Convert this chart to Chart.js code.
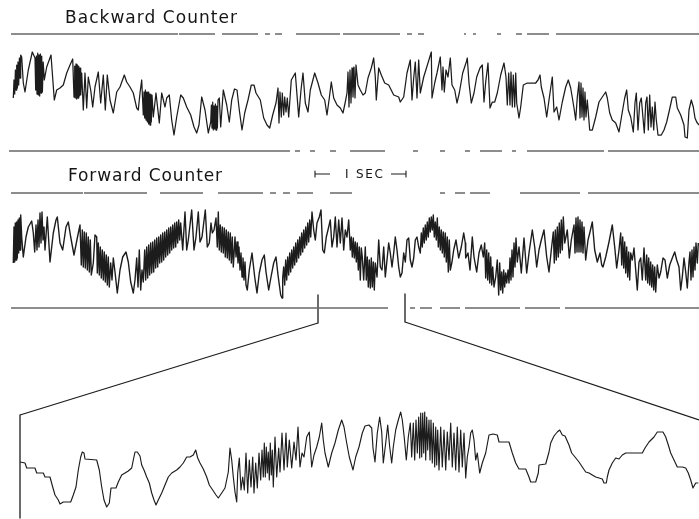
<!DOCTYPE html>
<html>
<head>
<meta charset="utf-8">
<title>Backward / Forward Counter</title>
<script src="https://cdn.jsdelivr.net/npm/chart.js@4.4.1/dist/chart.umd.min.js"></script>
<style>
  html, body { margin: 0; padding: 0; background: #fff; }
  #wrap { position: relative; width: 699px; height: 519px; overflow: hidden; }
  #plot { position: absolute; left: 0; top: 0; }
  .lbl { position: absolute; font-family: "DejaVu Sans", sans-serif; color: #151515; white-space: nowrap; line-height: 1; }
</style>
</head>
<body>
<div id="wrap">
  <canvas id="plot" width="699" height="519"></canvas>
  <div class="lbl" data-w="172" style="left:65px;top:8.5px;font-size:17px">Backward Counter</div>
  <div class="lbl" data-w="154" style="left:68px;top:166.5px;font-size:17px">Forward Counter</div>
  <div class="lbl" data-w="38" style="left:345px;top:168px;font-size:12px">I SEC</div>
</div>
<script>
// traces: [time (px along record), counter level above panel baseline]
const backwardTrace = [
  [13.3,52],[14,70],[14.7,56],[15.4,80],[16,60],[16.7,85],[17.4,62],[18,88],[18.7,65],[19.4,92],[20,72],[20.7,95],[21.7,93],[23.3,67],[25,58],[28.3,80],[32.3,98],
  [35,92],[35.7,60],[36.4,94],[37,56],[37.7,97],[38.4,55],[39,95],[39.7,54],[40.4,96],[41,57],[41.7,94],[42.4,58],[43.2,88],[44.3,70],[46.7,83],[51,95],[54.3,50],
  [56.7,60],[60,62],[63.3,65],[66.7,77],[70,85],[72.7,91],[74,53],[74.7,84],[75.3,52],[76,86],[76.7,51],[77.4,85],[78,52],[78.7,84],[79.4,54],[80,82],[80.7,55],
  [81.7,77],[83.3,40],[85,77],[86.7,42],[88.3,73],[90.7,60],[92.7,43],[95,63],[98.3,78],[100.7,47],[103.3,75],[105.3,40],[107.3,75],[110,50],[113.3,37],[116.7,58],
  [120,63],[124.3,75],[126.7,68],[130,63],[133.3,57],[136.7,42],[138.3,40],[140,57],[141.7,70],[143.3,35],[144,58],[144.7,32],[145.4,60],[146,30],[146.7,58],
  [147.4,28],[148,58],[148.7,26],[149.4,56],[150,25],[150.7,56],[151.3,28],[152,55],[153.3,33],[156,57],[159.3,27],[161.7,57],[165,43],[166.7,52],[169.3,55],
  [171.7,30],[174,15],[176.7,33],[180.7,55],[183.3,52],[186.7,43],[190.7,35],[194,23],[196.7,17],[199,25],[201.7,53],[205,40],[208.3,17],[210.7,28],[211.4,45],
  [212,22],[212.7,48],[213.3,20],[214,44],[214.7,21],[215.4,46],[216,20],[216.7,44],[217.4,22],[218,50],[219.3,52],[220.7,23],[223.3,60],[226.7,45],[229.3,28],
  [231.7,50],[234.5,61],[237,60],[239.3,40],[242,20],[244.7,37],[248,50],[251.3,65],[254,65],[256,57],[260.3,50],[263.7,32],[267,25],[269.7,22],[272.7,35],
  [276,47],[278,62],[279,27],[280,58],[281.3,33],[282.3,57],[283.7,35],[284.7,53],[286,38],[287.3,52],[288.7,33],[291.3,70],[295.3,77],[298.7,33],[301,60],
  [303,77],[305.3,47],[308,38],[310.3,60],[314.7,77],[318,67],[321.3,55],[324.7,50],[327,35],[329.3,52],[331.3,68],[333.7,52],[337,45],[340.3,42],[343,37],
  [345.3,48],[347,57],[348,78],[349,43],[350,80],[351,47],[352,82],[353,53],[354,83],[355,52],[356,85],[358,65],[360.3,60],[363,55],[365.3,57],[368,72],
  [371.3,82],[373.7,92],[375.3,73],[376.3,50],[378.7,82],[381.3,75],[384.7,67],[388.7,65],[393.7,55],[398.7,53],[400.3,48],[403.7,53],[407,77],[410.3,90],
  [412,50],[413.7,72],[415.3,88],[417,52],[418.7,90],[420.3,57],[423.7,73],[428,87],[431.3,98],[432,52],[434.7,67],[437,77],[440.3,93],[442,60],[443,83],
  [444.3,58],[446,80],[448,73],[450.3,92],[452,65],[454.7,60],[457,47],[459.3,57],[462.7,77],[466.3,88],[467.3,92],[469,67],[471.3,47],[474,57],[476.7,73],
  [480,82],[482.3,85],[484,48],[485.7,68],[488,87],[490,42],[492.3,48],[494.7,48],[497.3,57],[500.7,75],[504,87],[506,73],[507.3,45],[508.7,77],[510,45],
  [511,78],[512.3,43],[513.3,75],[514.7,43],[515.7,77],[516.7,47],[519,32],[520.7,43],[523.3,65],[527.3,67],[532.3,67],[535.7,67],[538,70],[540,75],[541.3,63],
  [544,52],[546.7,33],[549,50],[550.7,62],[552.3,73],[554,38],[556.7,43],[559,30],[562.3,48],[565.7,63],[568.3,70],[570.7,62],[574,42],[575.7,30],[577.3,53],
  [579,68],[580,32],[581,67],[582,33],[583,62],[584,30],[585,58],[586,33],[587.3,50],[589.7,20],[592.3,20],[595.7,33],[599,48],[602.3,53],[605.7,58],[607.3,52],
  [609.7,37],[612.3,30],[615.7,27],[619,18],[622.3,38],[624.7,52],[626.7,60],[628.3,40],[630.7,33],[633.3,18],[635,47],[636.3,57],[638,20],[639.7,47],[641.3,52],
  [643,32],[644.3,17],[645.7,47],[647,53],[648.3,20],[649.7,55],[651,23],[652.3,43],[653.7,20],[655,48],[656.3,30],[658,15],[661.3,15],[664,20],[666.7,28],
  [669,38],[672.3,53],[675.7,53],[677.3,42],[680.7,35],[684,25],[685,13],[687.3,12],[689,40],[691.3,50],[693.3,43],[695,32],[696.7,28],[699,25]
];

const forwardTrace = [
  [13.3,45],[14,81],[14.7,46],[15.3,85],[16,48],[16.7,86],[17.3,50],[18,88],[18.7,55],[19.3,90],[20,58],[20.7,93],[21.7,71],[23.3,51],[26,71],[28.3,81],[31.7,87],
  [33.3,75],[34.7,56],[36,83],[37,58],[38,88],[39,61],[40,95],[41,65],[42,96],[43,68],[44,81],[45,58],[47.3,91],[50,46],[53.3,75],[56,88],[57.3,91],[60,65],
  [62.7,58],[66,81],[68.3,86],[70.7,71],[74,53],[77.3,70],[80,83],[81.3,43],[82.3,78],[83.3,41],[84.3,76],[85.3,40],[86.3,75],[87.3,38],[88.3,71],[89.3,36],
  [90.3,68],[91.3,33],[93.3,45],[95,73],[96.7,71],[97.3,35],[98.3,65],[99.3,33],[100.3,61],[101.3,30],[102.3,58],[103.3,28],[104.3,56],[105.3,26],[106.3,53],
  [107.3,23],[108.3,51],[109.3,21],[110.7,45],[112,28],[113.3,50],[115,36],[117.3,15],[120,38],[122.7,51],[126,56],[128.3,46],[130.7,26],[133.3,15],[135,28],
  [136.7,50],[138,21],[139.3,58],[140.7,18],[142,38],[143.3,26],[144.7,58],[145.7,28],[146.7,61],[147.7,30],[148.7,63],[149.7,33],[150.7,65],[151.7,35],
  [152.7,66],[153.7,36],[154.7,68],[155.7,40],[156.7,70],[157.7,41],[158.7,71],[159.7,45],[160.7,73],[161.7,46],[162.7,75],[163.7,48],[164.7,76],[165.7,51],
  [166.7,78],[167.7,53],[168.7,80],[169.7,55],[170.7,81],[171.7,58],[172.7,83],[173.7,60],[174.7,85],[175.7,61],[176.7,86],[177.7,65],[178.7,88],[179.7,68],
  [180.7,85],[182.7,58],[185,96],[186.7,58],[188.3,68],[191.7,98],[194,58],[196,71],[198.3,96],[200,66],[202,71],[205.3,98],[207.3,61],[209.3,65],[211,85],
  [212.3,75],[214,78],[216,90],[217.3,61],[218.3,96],[219.3,58],[220.3,83],[221.3,56],[222.3,81],[223.3,55],[224.3,80],[225.3,51],[226.3,78],[227.3,50],
  [228.3,76],[229.3,48],[230.3,75],[231.3,45],[232.3,71],[233.3,41],[235,71],[236,51],[237,66],[238,45],[239,61],[240,38],[241,55],[242,31],[243,50],[244,28],
  [245,46],[246,23],[247.3,18],[249.3,38],[252,55],[254.7,31],[257,15],[259.3,35],[262,48],[264.3,53],[266,36],[268.7,18],[271,31],[273.7,45],[276,51],[278,33],
  [280.7,13],[282,10],[282.7,30],[283.7,41],[284.7,23],[285.7,48],[286.7,28],[287.7,51],[288.7,33],[289.7,55],[290.7,36],[291.7,58],[292.7,40],[293.7,61],
  [294.7,43],[295.7,65],[296.7,46],[297.7,68],[298.7,50],[299.7,71],[300.7,53],[301.7,75],[302.7,56],[303.7,78],[304.7,60],[305.7,81],[306.7,63],[307.7,85],
  [308.7,66],[309.7,88],[310.7,71],[312,96],[313.7,78],[315.3,68],[317,85],[319.3,91],[321,98],[322.7,58],[324.3,55],[326.3,71],[328.7,81],[330.3,88],[332,61],
  [333.7,71],[335.3,91],[337,61],[338.7,88],[340.3,65],[342,90],[343.7,58],[345.3,78],[347,71],[348.7,88],[350.3,58],[351.3,71],[352.3,51],[353.3,70],[354.3,50],
  [355.3,66],[356.3,46],[357.3,65],[358.3,38],[359.3,61],[360.3,28],[361.3,60],[362.3,51],[363.7,28],[365.3,61],[366.3,28],[367.3,51],[368.3,21],[369.3,48],
  [370.3,20],[371.3,50],[372.3,21],[373.3,46],[374.3,18],[375.3,45],[377,31],[378.7,68],[380.3,41],[382,38],[383.7,61],[385.3,31],[387,48],[388.7,65],[390.3,55],
  [392,41],[393.7,55],[395.3,71],[397,58],[398.7,41],[400.3,31],[402,35],[403.7,55],[405.3,46],[407,68],[408.7,70],[410.3,48],[412,41],[413.7,50],[415.3,68],
  [417,71],[418.7,61],[420.3,55],[421.3,75],[422.3,61],[423.3,80],[424.3,65],[425.3,83],[426.3,68],[427.3,86],[428.3,71],[429.3,90],[430.3,76],[431.3,91],
  [432.3,78],[433.3,93],[434.3,71],[435.3,86],[436.3,68],[437.3,90],[438.3,61],[439.3,81],[440.3,58],[441.3,78],[442.3,55],[443.3,76],[444.3,51],[445.3,75],
  [446.3,46],[447.3,71],[448.3,36],[449.3,68],[450.3,38],[452,46],[453.7,58],[456,68],[458.7,50],[461.3,61],[463.7,75],[465.3,65],[465.7,50],[468,55],[470,38],
  [472.3,71],[474,51],[476.7,36],[479,55],[481.3,63],[483.3,51],[484.7,65],[485.7,30],[486.7,58],[487.7,28],[488.7,55],[489.7,25],[490.7,51],[491.7,23],
  [492.7,41],[494,21],[495.7,31],[497.3,48],[498.7,13],[499.7,45],[500.7,18],[501.7,36],[502.7,15],[503.7,38],[504.7,21],[505.7,35],[506.7,25],[508,38],[509,25],
  [510,50],[511,28],[512,58],[513,31],[514,65],[515,41],[516,70],[517.3,46],[519,61],[521.3,35],[524,70],[526.7,35],[529,55],[532.3,78],[534.7,61],[536.7,41],
  [539,58],[541.3,68],[544,78],[546.7,51],[549,36],[551.3,58],[553.3,76],[554.3,45],[555.3,78],[556.3,48],[557.3,81],[558.3,51],[559.3,85],[560.3,55],[561.3,88],
  [562.3,58],[563.3,91],[564.7,65],[567.3,78],[569.3,50],[571.3,68],[574,83],[575,55],[576,90],[577,56],[578,91],[579,56],[580,88],[581,56],[582,86],[583,55],
  [584,81],[585.7,48],[588,68],[590,76],[592.3,86],[594.7,58],[597.3,46],[600,55],[601.7,43],[603,41],[605.7,51],[609,66],[612.3,83],[614.7,61],[616.7,40],
  [619,58],[620.7,75],[621.7,43],[622.7,71],[623.7,40],[624.7,66],[625.7,35],[626.7,61],[627.7,31],[628.7,56],[629.7,28],[630.7,55],[632.3,48],[634,60],
  [635.7,38],[637.3,18],[639,46],[640.7,50],[642.3,28],[644,60],[645.7,28],[646.7,53],[647.7,25],[648.7,50],[649.7,23],[650.7,46],[651.7,21],[652.7,43],
  [653.7,18],[654.7,41],[655.7,16],[657.3,43],[659,30],[660.7,36],[663,50],[665,48],[667.3,30],[669.7,43],[672.3,50],[674.7,56],[676.7,48],[679,41],[680.7,18],
  [682.3,31],[684,50],[685.7,36],[687.3,20],[689,46],[690,56],[691,28],[692,58],[693,31],[694,61],[695,38],[696,65],[697.3,45],[698.3,65]
];

// expanded stretch between the two markers
const expandedTrace = [
  [20,57],[25,56],[26.7,51],[35,51],[36.7,46],[43.3,46],[45,42],[50,42],[52.7,32],[55,24],[58.3,19],[60,15],[63.3,17],[70.7,17],[73.3,24],[76,32],[78.3,49],
  [80.7,62],[82.3,67],[84,66],[85,60],[96.7,59],[99.3,49],[101.7,32],[104,19],[106.7,12],[109.3,16],[111,31],[116,31],[118.3,37],[121.7,44],[125,46],[128.3,48],
  [131.7,51],[133.3,59],[135,67],[137.3,67],[140,63],[141.7,54],[144,49],[146.7,42],[149.3,36],[151.7,26],[154,19],[156,14],[158.3,19],[161.7,26],[165,34],
  [168.3,42],[171.7,46],[176.7,49],[180,52],[183.3,56],[186.7,62],[190,62],[193.3,64],[195.7,69],[197.7,61],[200,56],[203.3,50],[206.7,42],[209.3,34],[212.7,29],
  [216,24],[218.3,21],[221.7,26],[225,31],[228.3,47],[230,71],[231.7,59],[233.3,42],[235,27],[236.7,17],[237.7,46],[239.3,61],[241,29],[242.7,42],[244.3,29],
  [246,66],[247.7,26],[249.3,59],[251,32],[252.7,62],[254,26],[255.7,56],[257.3,31],[259,66],[260.7,39],[262,69],[263.3,42],[264.3,76],[265.3,42],[266.3,72],
  [267.3,46],[268.3,67],[269.3,39],[270.3,76],[271.3,44],[272.3,69],[273.3,32],[275,82],[276.7,42],[278.7,71],[280,47],[282,86],[284,49],[286,86],[287.3,52],
  [289.3,79],[291.7,51],[294,77],[296,59],[298,92],[300,52],[302,66],[304,62],[306.7,82],[309.3,87],[311.7,52],[314,64],[316.7,72],[319.3,82],[321.7,96],
  [323.3,79],[325,66],[328.3,52],[331.7,66],[335,76],[338.3,89],[341.7,99],[344,92],[346.7,76],[349.3,62],[353,49],[355.7,62],[359,72],[362.3,86],[365,93],
  [369,94],[371.7,91],[373,71],[375,57],[377.3,86],[379.7,102],[381.7,87],[383.3,56],[385.7,76],[387.7,94],[389.7,72],[391.7,56],[393.3,72],[395.7,89],
  [398.3,99],[400.7,107],[402.3,99],[404.3,81],[406.3,59],[408.3,82],[410.3,96],[411.7,62],[413.3,96],[414.7,59],[416,99],[417.3,66],[418.7,102],[419.7,61],
  [420.7,106],[421.7,62],[422.7,106],[423.7,66],[424.7,107],[425.7,59],[426.7,102],[427.7,69],[429,99],[430,59],[431,99],[432.3,56],[433.3,96],[434.7,52],
  [435.7,92],[436.7,54],[437.7,89],[439,49],[440.7,92],[442.3,52],[444,89],[445.7,49],[447.3,87],[449,59],[450.7,96],[452.3,52],[454,86],[455.7,49],[457.3,92],
  [459,47],[460.7,89],[462.3,52],[464,86],[465.7,41],[467.3,62],[469,72],[470.7,86],[472.3,89],[474,79],[475.7,59],[477.3,66],[479.7,46],[482.3,56],[485.7,66],
  [489,84],[493,85],[497.3,84],[499,77],[509,77],[512.3,66],[515.7,56],[519,50],[525.7,50],[529,42],[530.7,37],[535.7,37],[538.3,46],[539,54],[545.7,55],
  [549,67],[550.7,76],[554,83],[557.3,87],[559.7,89],[562.3,84],[565,83],[569,74],[571.7,66],[575,62],[579,57],[582.3,52],[585.7,47],[589,46],[592.3,44],
  [595.7,42],[599,41],[602.3,40],[604,36],[606.3,36],[607.3,42],[609,49],[612.3,56],[615.7,61],[619,60],[622.3,64],[625.7,66],[630.7,66],[642.3,66],[645,71],
  [649,77],[654,82],[657.3,87],[663,87],[665.7,82],[668.3,74],[670.7,66],[674,59],[677.3,52],[682.3,52],[685.7,51],[688.3,46],[690.7,39],[693,31],[695.7,36],
  [698.3,36]
];

// printed reference lines (broken where the scan faded): [from, to]
const ruleTopSegs = [[11,178],[179,215],[222,258],[265,270],[275,282],[296,340],[343,400],[407,412],[418,424],[464,466],[473,476],[497,501],[516,522],[527,549],[556,699]];
const ruleMidSegs = [[9,290],[295,300],[310,315],[330,336],[350,385],[413,418],[440,445],[465,470],[480,502],[512,516],[527,604],[608,699]];
const ruleFwdSegs = [[11,83],[84,147],[160,203],[218,263],[270,276],[283,290],[297,313],[330,352],[440,445],[455,465],[470,490],[520,580],[588,699]];
const ruleLowSegs = [[11,317],[319,388],[410,415],[420,432],[440,460],[465,520],[525,560],[565,699]];

// markers bounding the expanded stretch, and the 1 s scale bar
const markerTimes = [318, 405];
const expandedStart = 20;
const scaleBar = [315, 406];

// layout (canvas px)
const BASE_BACK = 150, BASE_FWD = 308, BASE_EXP = 519;
const Y_RULE_TOP = 34, Y_RULE_MID = 151, Y_RULE_FWD = 193, Y_RULE_LOW = 308;
const Y_BAR = 174;
const INK = '#1c1c1c';

function trace(pairs, base) {
  return pairs.map(p => ({ x: p[0], y: base - p[1] }));
}
function segments(segs, y) {
  const out = [];
  segs.forEach(s => {
    out.push({ x: s[0], y: y });
    out.push({ x: s[1], y: y });
    out.push({ x: s[1], y: null });
  });
  return out;
}
function line(data, width) {
  return { data: data, borderColor: INK, borderWidth: width, pointRadius: 0, tension: 0, fill: false, spanGaps: false, borderJoinStyle: 'round' };
}

const m0 = markerTimes[0], m1 = markerTimes[1];
const connectors = [
  { x: m0, y: 295 }, { x: m0, y: 323 }, { x: expandedStart, y: 415 }, { x: expandedStart, y: 518 }, { x: expandedStart, y: null },
  { x: m1, y: 294 }, { x: m1, y: 322 }, { x: 699, y: 420 }
];
const bar = [
  { x: scaleBar[0], y: Y_BAR - 3 }, { x: scaleBar[0], y: Y_BAR + 3 }, { x: scaleBar[0], y: null },
  { x: scaleBar[0], y: Y_BAR }, { x: scaleBar[0] + 15, y: Y_BAR }, { x: scaleBar[0] + 15, y: null },
  { x: scaleBar[1] - 15, y: Y_BAR }, { x: scaleBar[1], y: Y_BAR }, { x: scaleBar[1], y: null },
  { x: scaleBar[1], y: Y_BAR - 3 }, { x: scaleBar[1], y: Y_BAR + 3 }
];

new Chart(document.getElementById('plot'), {
  type: 'line',
  data: {
    datasets: [
      line(segments(ruleTopSegs, Y_RULE_TOP), 1.2),
      line(segments(ruleMidSegs, Y_RULE_MID), 1.2),
      line(segments(ruleFwdSegs, Y_RULE_FWD), 1.1),
      line(segments(ruleLowSegs, Y_RULE_LOW), 1.2),
      line(trace(backwardTrace, BASE_BACK), 1.25),
      line(trace(forwardTrace, BASE_FWD), 1.4),
      line(trace(expandedTrace, BASE_EXP), 1.15),
      line(connectors, 1.3),
      line(bar, 1.1)
    ]
  },
  options: {
    responsive: false,
    devicePixelRatio: 1,
    animation: false,
    events: [],
    layout: { padding: 0 },
    plugins: { legend: { display: false }, tooltip: { enabled: false }, title: { display: false } },
    scales: {
      x: { type: 'linear', min: 0, max: 699, display: false },
      y: { type: 'linear', min: 0, max: 519, reverse: true, display: false }
    }
  }
});

// spread the lettering to the widths used on the original plate
document.querySelectorAll('.lbl').forEach(el => {
  const target = parseFloat(el.dataset.w);
  const n = el.textContent.length;
  const natural = el.getBoundingClientRect().width;
  el.style.letterSpacing = ((target - natural) / (n - 1)) + 'px';
});
</script>
</body>
</html>
